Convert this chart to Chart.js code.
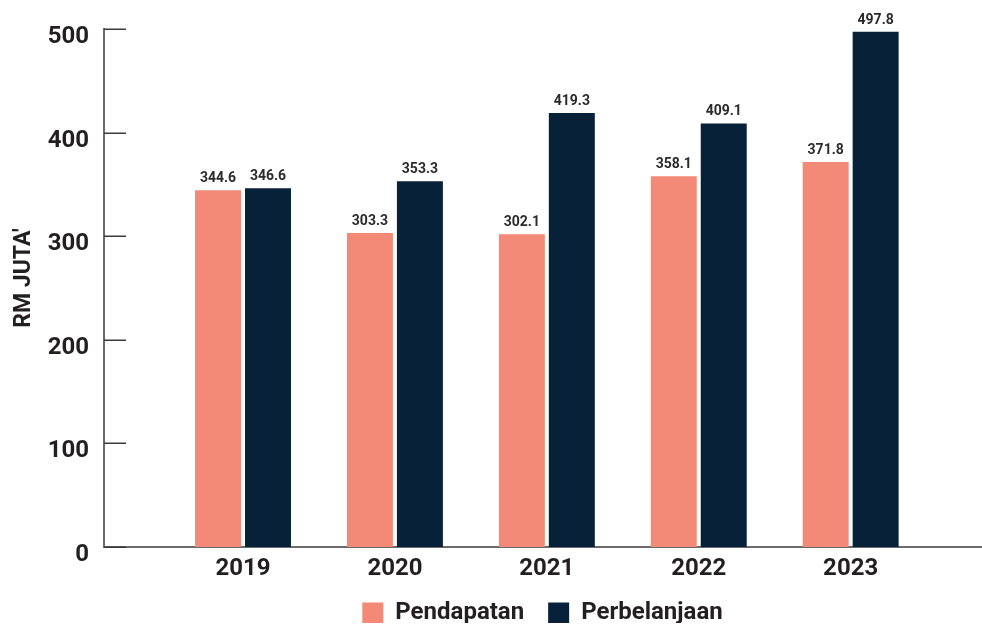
<!DOCTYPE html>
<html>
<head>
<meta charset="utf-8">
<script src="https://cdn.jsdelivr.net/npm/chart.js@4.4.1/dist/chart.umd.min.js"></script>
<style>
  html, body { margin: 0; padding: 0; background: #ffffff; }
  #wrap { width: 982px; height: 625px; }
</style>
</head>
<body>
<div id="wrap"><canvas id="c" width="982" height="625"></canvas></div>
<script>
const years = ['2019', '2020', '2021', '2022', '2023'];
const pendapatan = [344.6, 303.3, 302.1, 358.1, 371.8];
const perbelanjaan = [346.6, 353.3, 419.3, 409.1, 497.8];
const yTicks = [0, 100, 200, 300, 400, 500];
const seriesNames = ['Pendapatan', 'Perbelanjaan'];
const yTitle = "RM JUTA'";

const textColor = '#231f20';
const axisColor = '#6b6b6b';
const FONT = 'Roboto, "Liberation Sans", sans-serif';

const labelPlugin = {
  id: 'valueLabels',
  afterDatasetsDraw(chart) {
    const ctx = chart.ctx;
    ctx.save();
    ctx.font = 'bold 14px ' + FONT;
    ctx.fillStyle = '#2b2b2b';
    ctx.textAlign = 'center';
    ctx.textBaseline = 'alphabetic';
    chart.data.datasets.forEach((ds, di) => {
      const meta = chart.getDatasetMeta(di);
      meta.data.forEach((bar, i) => {
        ctx.fillText(ds.data[i].y.toFixed(1), bar.x, bar.y - 8);
      });
    });
    ctx.restore();
  }
};

const legendFix = {
  id: 'legendFix',
  afterInit(chart) {
    const lg = chart.legend;
    if (lg && !lg._patched) {
      const orig = lg.fit.bind(lg);
      lg.fit = function () { orig(); this.height = 46; };
      lg._patched = true;
    }
  }
};

const innerTicks = {
  id: 'innerTicks',
  afterDraw(chart) {
    const ctx = chart.ctx;
    const ys = chart.scales.y;
    const left = chart.chartArea.left;
    ctx.save();
    ctx.strokeStyle = '#3a3a3a';
    ctx.lineWidth = 1.5;
    yTicks.forEach(v => {
      const py = Math.round(ys.getPixelForValue(v)) + 0.25;
      ctx.beginPath();
      ctx.moveTo(left, py);
      ctx.lineTo(left + 22, py);
      ctx.stroke();
    });
    // rotated axis title
    ctx.translate(24.5, 278);
    ctx.rotate(-Math.PI / 2);
    ctx.font = 'bold 23px ' + FONT;
    ctx.fillStyle = textColor;
    ctx.textAlign = 'center';
    ctx.textBaseline = 'middle';
    ctx.fillText(yTitle, 0, 0);
    ctx.restore();
  }
};

new Chart(document.getElementById('c'), {
  type: 'bar',
  data: {
    datasets: [
      {
        label: seriesNames[0],
        data: pendapatan.map((v, i) => ({ x: i, y: v })),
        backgroundColor: '#f28a77'
      },
      {
        label: seriesNames[1],
        data: perbelanjaan.map((v, i) => ({ x: i, y: v })),
        backgroundColor: '#072238'
      }
    ]
  },
  options: {
    responsive: false,
    animation: false,
    categoryPercentage: 0.658,
    barPercentage: 0.92,
    layout: { padding: { top: 26, right: 1, left: 0, bottom: 2 } },
    plugins: {
      tooltip: { enabled: false },
      legend: {
        position: 'bottom',
        fullSize: false,
        labels: {
          boxWidth: 21,
          boxHeight: 21,
          padding: 24,
          color: textColor,
          font: { family: FONT, size: 24, weight: 'bold' }
        }
      }
    },
    scales: {
      x: {
        type: 'linear',
        min: -0.915,
        max: 4.858,
        offset: false,
        grid: { display: false, drawTicks: false },
        border: { display: true, color: axisColor, width: 2 },
        afterBuildTicks(scale) {
          scale.ticks = years.map((_, i) => ({ value: i }));
        },
        afterFit(scale) { scale.height = 30; },
        ticks: {
          autoSkip: false,
          maxRotation: 0,
          padding: 8,
          color: textColor,
          font: { family: FONT, size: 24, weight: 'bold' },
          callback: (v) => years[v]
        }
      },
      y: {
        min: 0,
        max: 500,
        grid: { display: false, drawTicks: false },
        border: { display: true, color: axisColor, width: 2 },
        afterBuildTicks(scale) {
          scale.ticks = yTicks.map(v => ({ value: v }));
        },
        afterFit(scale) { scale.width = 104; },
        ticks: {
          padding: 15,
          labelOffset: 8,
          color: textColor,
          font: { family: FONT, size: 24, weight: 'bold' }
        }
      }
    }
  },
  plugins: [labelPlugin, innerTicks, legendFix]
});
</script>
</body>
</html>
